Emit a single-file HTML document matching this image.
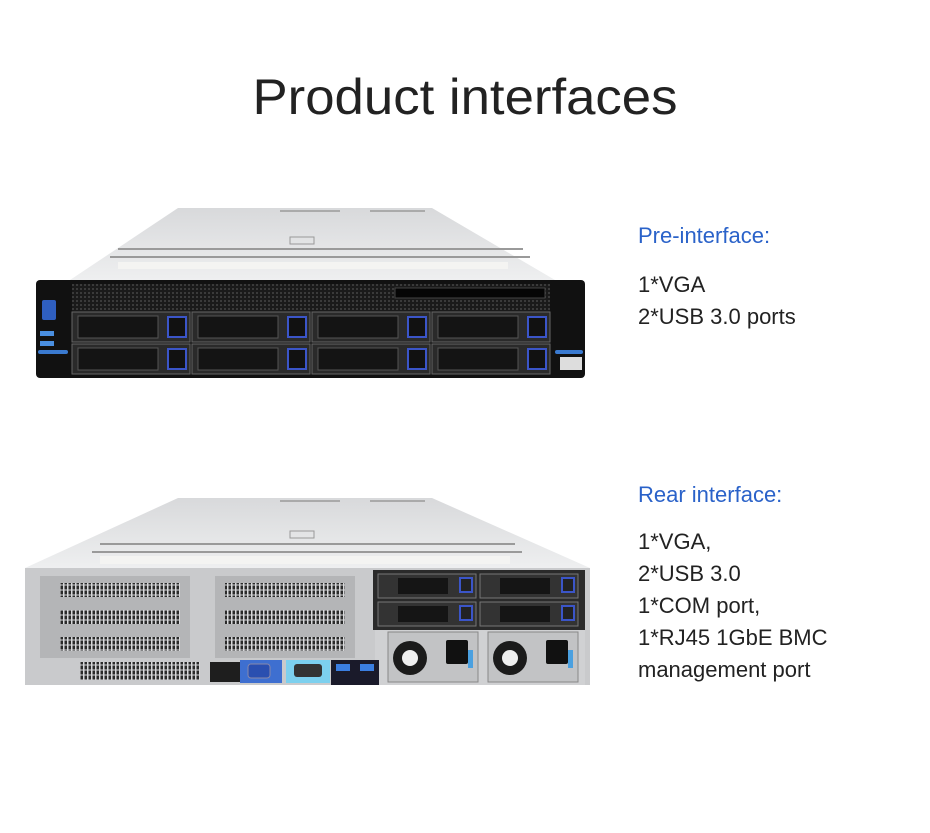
<!DOCTYPE html>
<html><head><meta charset="utf-8"><style>
html,body{margin:0;padding:0;background:#fff;}
svg{display:block;}
text{font-family:"Liberation Sans",sans-serif;}
</style></head><body>
<svg width="930" height="833" viewBox="0 0 930 833" xmlns="http://www.w3.org/2000/svg">
<defs>
<linearGradient id="top" x1="0" y1="0" x2="0" y2="1"><stop offset="0" stop-color="#d8d9db"/><stop offset="1" stop-color="#eeeff0"/></linearGradient>
<pattern id="vent" width="4" height="4" patternUnits="userSpaceOnUse"><rect width="4" height="4" fill="#1a1a1a"/><rect width="2" height="2" fill="#3a3a3a"/></pattern>
<pattern id="pci" width="4" height="5" patternUnits="userSpaceOnUse"><rect width="4" height="5" fill="#d7d8da"/><rect x="0.5" y="0.5" width="2.5" height="4" fill="#2a2a2a"/></pattern>
</defs>
<text x="465" y="114" font-size="50" fill="#222" text-anchor="middle" textLength="425" lengthAdjust="spacingAndGlyphs">Product interfaces</text>

<!-- Top server -->
<polygon points="178,208 432,208 555,280 70,280" fill="url(#top)"/>
<rect x="280" y="210" width="60" height="2" fill="#aaa"/><rect x="370" y="210" width="55" height="2" fill="#aaa"/>
<rect x="290" y="237" width="24" height="7" fill="none" stroke="#999"/>
<rect x="118" y="248" width="405" height="2" fill="#9a9a9a"/>
<rect x="110" y="256" width="420" height="2" fill="#9a9a9a"/>
<rect x="118" y="262" width="390" height="7" fill="#f4f4f2"/>
<rect x="36" y="280" width="549" height="98" rx="4" fill="#111"/>
<rect x="72" y="284" width="478" height="28" fill="url(#vent)"/>
<rect x="395" y="288" width="150" height="10" fill="#050505" stroke="#444"/>
<rect x="42" y="300" width="14" height="20" rx="2" fill="#2f5fc0"/>
<rect x="40" y="331" width="14" height="5" fill="#4a8fe0"/><rect x="40" y="341" width="14" height="5" fill="#4a8fe0"/>
<rect x="38" y="350" width="30" height="4" rx="2" fill="#3a7ad0"/>
<rect x="555" y="350" width="28" height="4" rx="2" fill="#3a7ad0"/>
<rect x="560" y="357" width="22" height="13" fill="#ddd"/>
<g id="drv">
<rect x="72" y="312" width="118" height="30" fill="#2a2a2a" stroke="#666"/>
<rect x="78" y="316" width="80" height="22" fill="#141414" stroke="#555"/>
<rect x="168" y="317" width="18" height="20" fill="#111" stroke="#3b55c8" stroke-width="2"/>
</g>
<use href="#drv" x="120"/><use href="#drv" x="240"/><use href="#drv" x="360"/>
<use href="#drv" y="32"/><use href="#drv" x="120" y="32"/><use href="#drv" x="240" y="32"/><use href="#drv" x="360" y="32"/>

<!-- Bottom server -->
<polygon points="178,498 432,498 590,568 25,568" fill="url(#top)"/>
<rect x="280" y="500" width="60" height="2" fill="#aaa"/><rect x="370" y="500" width="55" height="2" fill="#aaa"/>
<rect x="290" y="531" width="24" height="7" fill="none" stroke="#999"/>
<rect x="100" y="543" width="415" height="2" fill="#9a9a9a"/>
<rect x="92" y="551" width="430" height="2" fill="#9a9a9a"/>
<rect x="100" y="556" width="410" height="8" fill="#f4f4f2"/>
<rect x="25" y="568" width="565" height="117" fill="#c9cacc"/>
<rect x="40" y="576" width="150" height="82" fill="#b4b5b7"/>
<rect x="215" y="576" width="140" height="82" fill="#b4b5b7"/>
<rect x="60" y="583" width="120" height="14" fill="url(#pci)"/>
<rect x="60" y="610" width="120" height="14" fill="url(#pci)"/>
<rect x="60" y="637" width="120" height="14" fill="url(#pci)"/>
<rect x="225" y="583" width="120" height="14" fill="url(#pci)"/>
<rect x="225" y="610" width="120" height="14" fill="url(#pci)"/>
<rect x="225" y="637" width="120" height="14" fill="url(#pci)"/>
<rect x="80" y="662" width="120" height="18" fill="url(#pci)"/>
<rect x="373" y="570" width="212" height="60" fill="#2a2a2a"/>
<g id="rd">
<rect x="378" y="574" width="98" height="24" fill="#333" stroke="#777"/>
<rect x="398" y="578" width="50" height="16" fill="#151515"/>
<rect x="460" y="578" width="12" height="14" fill="#222" stroke="#3b55c8" stroke-width="2"/>
</g>
<use href="#rd" x="102"/><use href="#rd" y="28"/><use href="#rd" x="102" y="28"/>
<rect x="375" y="630" width="210" height="55" fill="#d0d1d3"/>
<g id="psu">
<rect x="388" y="632" width="90" height="50" fill="#c2c3c5" stroke="#888"/>
<circle cx="410" cy="658" r="17" fill="#1b1b1b"/><circle cx="410" cy="658" r="8" fill="#eee"/>
<rect x="446" y="640" width="22" height="24" rx="2" fill="#111"/>
<rect x="468" y="650" width="5" height="18" fill="#4aa0e0"/>
</g>
<use href="#psu" x="100"/>
<rect x="210" y="662" width="30" height="20" fill="#1e1e1e"/>
<rect x="240" y="660" width="42" height="23" fill="#3e6fd0"/>
<rect x="248" y="664" width="22" height="14" rx="3" fill="#2a4fb0" stroke="#88a" />
<rect x="286" y="660" width="44" height="23" fill="#7cd0ee"/>
<rect x="294" y="664" width="28" height="13" rx="3" fill="#333"/>
<rect x="331" y="660" width="48" height="25" fill="#1a1a2a"/>
<rect x="336" y="664" width="14" height="7" fill="#3b7ee0"/><rect x="360" y="664" width="14" height="7" fill="#3b7ee0"/>

<!-- Text -->
<text x="638" y="243" font-size="22" fill="#2a62c9">Pre-interface:</text>
<text x="638" y="292" font-size="22" fill="#222">1*VGA</text>
<text x="638" y="324" font-size="22" fill="#222">2*USB 3.0 ports</text>
<text x="638" y="502" font-size="22" fill="#2a62c9">Rear interface:</text>
<text x="638" y="549" font-size="22" fill="#222">1*VGA,</text>
<text x="638" y="581" font-size="22" fill="#222">2*USB 3.0</text>
<text x="638" y="613" font-size="22" fill="#222">1*COM port,</text>
<text x="638" y="645" font-size="22" fill="#222">1*RJ45 1GbE BMC</text>
<text x="638" y="677" font-size="22" fill="#222">management port</text>
</svg>
</body></html>
